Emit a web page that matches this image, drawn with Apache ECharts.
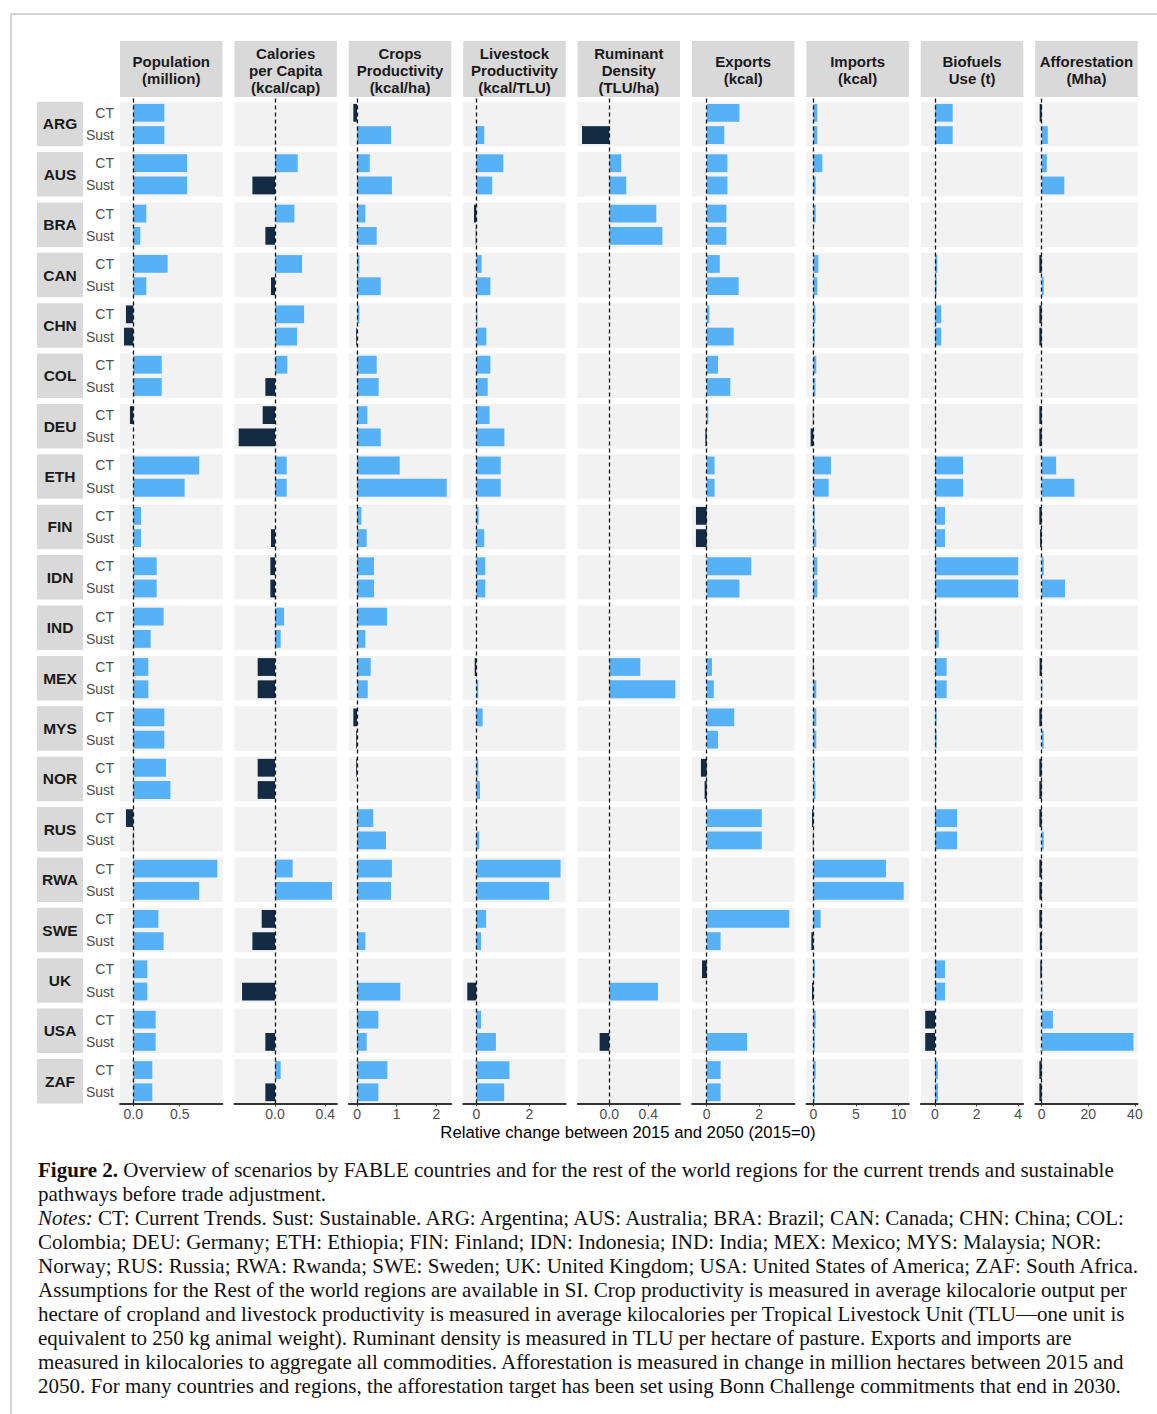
<!DOCTYPE html>
<html>
<head>
<meta charset="utf-8">
<script src="https://cdn.jsdelivr.net/npm/echarts@6/dist/echarts.min.js"></script>
<style>
  html, body { margin: 0; padding: 0; background: #fff; }
  #chart { width: 1157px; height: 1414px; }
</style>
</head>
<body>
<div id="chart"></div>
<script>
// countries (facet rows) and scenarios
const countries = ['ARG', 'AUS', 'BRA', 'CAN', 'CHN', 'COL', 'DEU', 'ETH', 'FIN', 'IDN',
  'IND', 'MEX', 'MYS', 'NOR', 'RUS', 'RWA', 'SWE', 'UK', 'USA', 'ZAF']
const scenarios = ['CT', 'Sust']

// relative change 2015-2050
const popCT = [0.334, 0.58, 0.14, 0.37, -0.079, 0.306, -0.036, 0.71, 0.083, 0.252, 0.327, 0.162, 0.334, 0.352, -0.079, 0.905, 0.27, 0.151, 0.241, 0.205]
const popSust = [0.334, 0.58, 0.075, 0.14, -0.1, 0.306, 0, 0.553, 0.083, 0.252, 0.187, 0.162, 0.334, 0.4, -0.004, 0.71, 0.327, 0.151, 0.241, 0.205]

const calCT = [0, 0.18, 0.154, 0.215, 0.231, 0.098, -0.098, 0.093, 0, -0.037, 0.072, -0.138, 0, -0.138, 0, 0.14, -0.106, 0, 0, 0.045]
const calSust = [0, -0.18, -0.077, -0.032, 0.175, -0.077, -0.289, 0.093, -0.032, -0.037, 0.045, -0.138, 0, -0.138, 0, 0.453, -0.18, -0.262, -0.077, -0.077]

const cropCT = [-0.093, 0.32, 0.21, 0.06, 0.06, 0.496, 0.26, 1.075, 0.11, 0.428, 0.756, 0.345, -0.093, -0.02, 0.41, 0.88, 0, 0, 0.537, 0.765]
const cropSust = [0.857, 0.88, 0.496, 0.597, -0.02, 0.546, 0.597, 2.26, 0.244, 0.428, 0.21, 0.27, -0.02, 0, 0.73, 0.857, 0.21, 1.09, 0.244, 0.537]

const liveCT = [0, 1.02, -0.087, 0.2, 0.04, 0.53, 0.5, 0.92, 0.09, 0.34, 0, -0.06, 0.24, 0.075, 0, 3.18, 0.37, 0, 0.18, 1.25]
const liveSust = [0.3, 0.6, -0.02, 0.53, 0.38, 0.43, 1.06, 0.92, 0.3, 0.34, 0, 0.075, 0, 0.14, 0.11, 2.75, 0.18, -0.34, 0.74, 1.05]

const rumCT = [0, 0.123, 0.482, 0, 0, 0, 0, 0, 0, 0, 0, 0.318, 0, 0, 0, 0, 0, 0, 0, 0]
const rumSust = [-0.28, 0.174, 0.544, 0, 0, 0, 0, 0, 0, 0, 0, 0.677, 0, 0, 0, 0, 0, 0.5, -0.099, 0]

const expCT = [1.25, 0.79, 0.75, 0.5, 0.1, 0.43, 0.06, 0.3, -0.41, 1.7, 0, 0.2, 1.05, -0.22, 2.1, 0, 3.15, -0.18, 0, 0.53]
const expSust = [0.67, 0.79, 0.75, 1.22, 1.03, 0.9, -0.05, 0.3, -0.41, 1.25, 0, 0.27, 0.43, -0.08, 2.1, 0, 0.53, 0, 1.54, 0.53]

const impCT = [0.47, 1.06, 0.28, 0.59, 0.25, 0.35, -0.05, 2.07, 0.18, 0.47, 0, -0.05, 0.35, 0.18, -0.15, 8.52, 0.86, 0.18, 0.28, 0.28]
const impSust = [0.47, 0.28, -0.03, 0.47, 0.18, 0.25, -0.31, 1.8, 0.35, 0.47, 0, 0.35, 0.35, 0.25, -0.05, 10.6, -0.23, -0.15, 0.18, 0.18]

const bioCT = [0.85, 0, 0, 0.11, 0.3, 0, 0.02, 1.35, 0.48, 4.0, 0.06, 0.56, 0.08, 0, 1.06, 0, 0, 0.48, -0.47, 0.14]
const bioSust = [0.85, 0, 0, 0.08, 0.3, 0, 0.02, 1.35, 0.48, 4.0, 0.18, 0.56, 0.08, 0, 1.06, 0, 0, 0.48, -0.47, 0.14]

const affCT = [-0.87, 2.2, 0, -1.0, -1.0, 0, -1.0, 6.2, -1.0, 0.87, 0, -0.9, -1.0, -1.0, -1.0, -1.0, -1.0, -0.6, 4.8, -1.0]
const affSust = [2.6, 9.7, 0, 0.87, -1.0, 0, -1.0, 14.0, -0.7, 10.0, 0, 0.3, 0.87, -1.0, 0.87, -1.0, -0.8, 0.3, 39.4, -1.0]

// facet headers and axis ticks
const headers = ['Population\n(million)', 'Calories\nper Capita\n(kcal/cap)', 'Crops\nProductivity\n(kcal/ha)',
  'Livestock\nProductivity\n(kcal/TLU)', 'Ruminant\nDensity\n(TLU/ha)', 'Exports\n(kcal)', 'Imports\n(kcal)',
  'Biofuels\nUse (t)', 'Afforestation\n(Mha)']
const tickValues = [[0, 0.5], [0, 0.4], [0, 1, 2], [0, 2], [0, 0.4], [0, 2], [0, 5, 10], [0, 2, 4], [0, 20, 40]]
const tickLabels = [['0.0', '0.5'], ['0.0', '0.4'], ['0', '1', '2'], ['0', '2'], ['0.0', '0.4'], ['0', '2'], ['0', '5', '10'], ['0', '2', '4'], ['0', '20', '40']]
const axisMin = [-0.143, -0.323, -0.207, -0.494, -0.325, -0.561, -0.809, -0.683, -2.79]
const axisMax = [0.961, 0.492, 2.375, 3.374, 0.726, 3.351, 11.21, 4.245, 41.2]

const xTitle = 'Relative change between 2015 and 2050 (2015=0)'
const captionLines = [
  '{b|Figure 2.} Overview of scenarios by FABLE countries and for the rest of the world regions for the current trends and sustainable',
  'pathways before trade adjustment.',
  '{i|Notes:} CT: Current Trends. Sust: Sustainable. ARG: Argentina; AUS: Australia; BRA: Brazil; CAN: Canada; CHN: China; COL:',
  'Colombia; DEU: Germany; ETH: Ethiopia; FIN: Finland; IDN: Indonesia; IND: India; MEX: Mexico; MYS: Malaysia; NOR:',
  'Norway; RUS: Russia; RWA: Rwanda; SWE: Sweden; UK: United Kingdom; USA: United States of America; ZAF: South Africa.',
  'Assumptions for the Rest of the world regions are available in SI. Crop productivity is measured in average kilocalorie output per',
  'hectare of cropland and livestock productivity is measured in average kilocalories per Tropical Livestock Unit (TLU\u2014one unit is',
  'equivalent to 250 kg animal weight). Ruminant density is measured in TLU per hectare of pasture. Exports and imports are',
  'measured in kilocalories to aggregate all commodities. Afforestation is measured in change in million hectares between 2015 and',
  '2050. For many countries and regions, the afforestation target has been set using Bonn Challenge commitments that end in 2030.'
]

const ctValues = [popCT, calCT, cropCT, liveCT, rumCT, expCT, impCT, bioCT, affCT]
const sustValues = [popSust, calSust, cropSust, liveSust, rumSust, expSust, impSust, bioSust, affSust]

const posColor = '#56B1F7'
const negColor = '#132B43'
const panelBg = '#F2F2F2'
const stripBg = '#D9D9D9'

// layout
const colLeft0 = 120, colStep = 114.4, panelW = 102.5
const rowTop0 = 101.7, rowStep = 50.38, panelH = 44.5
const headTop = 41, headH = 56
const colLeft = c => colLeft0 + c * colStep
const rowTop = r => rowTop0 + r * rowStep
const axisY = rowTop(countries.length - 1) + panelH

const grids = [], xAxes = [], yAxes = [], series = []

headers.forEach((h, c) => {
  countries.forEach((name, r) => {
    const idx = grids.length
    const last = r === countries.length - 1
    grids.push({
      left: colLeft(c), top: rowTop(r), width: panelW, height: panelH,
      show: true, backgroundColor: panelBg, borderWidth: 0
    })
    xAxes.push({
      gridIndex: idx, type: 'value', min: axisMin[c], max: axisMax[c], show: last,
      axisLine: { show: true, onZero: false, lineStyle: { color: '#333', width: 1.8 } },
      axisTick: { show: true, length: 3, customValues: tickValues[c], lineStyle: { color: '#333', width: 1 } },
      axisLabel: {
        customValues: tickValues[c], color: '#4d4d4d', fontSize: 14, margin: 4,
        formatter: v => tickLabels[c][tickValues[c].indexOf(v)]
      },
      splitLine: { show: false }
    })
    yAxes.push({
      gridIndex: idx, type: 'category', data: scenarios, inverse: true, show: c === 0,
      axisLine: { show: false }, axisTick: { show: false },
      axisLabel: { color: '#4d4d4d', fontSize: 14, margin: 6 },
      splitLine: { show: false }
    })
    series.push({
      type: 'bar', xAxisIndex: idx, yAxisIndex: idx, barCategoryGap: '20%', silent: true,
      data: [ctValues[c][r], sustValues[c][r]].map(v => ({
        value: v, itemStyle: { color: v < 0 ? negColor : posColor }
      }))
    })
  })
})

// dashed zero line, one per column, across all rows
headers.forEach((h, c) => {
  const idx = grids.length
  grids.push({ left: colLeft(c), top: headTop + headH, width: panelW, height: axisY - headTop - headH, show: false })
  xAxes.push({ gridIndex: idx, type: 'value', min: axisMin[c], max: axisMax[c], show: false })
  yAxes.push({ gridIndex: idx, type: 'value', min: 0, max: 1, show: false })
  series.push({
    type: 'line', xAxisIndex: idx, yAxisIndex: idx, data: [], z: 5, silent: true,
    markLine: {
      silent: true, symbol: ['none', 'none'], label: { show: false },
      lineStyle: { color: '#111', type: [4, 3], width: 1.3 },
      data: [{ xAxis: 0 }]
    }
  })
})

const graphics = []

// figure frame (top and left edges visible)
graphics.push({ type: 'line', shape: { x1: 11, y1: 14, x2: 1157, y2: 14 }, style: { stroke: '#c4c4c4', lineWidth: 1.5 } })
graphics.push({ type: 'line', shape: { x1: 11, y1: 14, x2: 11, y2: 1414 }, style: { stroke: '#c4c4c4', lineWidth: 1.5 } })

// column strips
headers.forEach((h, c) => {
  graphics.push({ type: 'rect', shape: { x: colLeft(c), y: headTop, width: panelW, height: headH }, style: { fill: stripBg } })
  graphics.push({
    type: 'text', x: colLeft(c) + panelW / 2, y: headTop + headH / 2 + 1,
    style: {
      text: h, align: 'center', verticalAlign: 'middle', fill: '#1a1a1a',
      fontFamily: 'Liberation Sans, Arial, sans-serif', fontSize: 15, fontWeight: 'bold', lineHeight: 17
    }
  })
})

// row strips
countries.forEach((name, r) => {
  graphics.push({ type: 'rect', shape: { x: 37, y: rowTop(r), width: 46, height: panelH }, style: { fill: stripBg } })
  graphics.push({
    type: 'text', x: 60, y: rowTop(r) + panelH / 2,
    style: {
      text: name, align: 'center', verticalAlign: 'middle', fill: '#1a1a1a',
      fontFamily: 'Liberation Sans, Arial, sans-serif', fontSize: 15.5, fontWeight: 'bold'
    }
  })
})

// shared x axis title
graphics.push({
  type: 'text', x: 628, y: 1132,
  style: {
    text: xTitle, align: 'center', verticalAlign: 'middle', fill: '#000',
    fontFamily: 'Liberation Sans, Arial, sans-serif', fontSize: 16.7
  }
})

// caption
const capFont = 'Liberation Serif, Times New Roman, serif'
captionLines.forEach((line, i) => {
  graphics.push({
    type: 'text', x: 38, y: 1170 + i * 24,
    style: {
      text: line, align: 'left', verticalAlign: 'middle', fill: '#111',
      fontFamily: capFont, fontSize: 21,
      rich: {
        b: { fontFamily: capFont, fontSize: 21, fontWeight: 'bold', fill: '#111' },
        i: { fontFamily: capFont, fontSize: 21, fontStyle: 'italic', fill: '#111' }
      }
    }
  })
})

const chart = echarts.init(document.getElementById('chart'), null, { renderer: 'svg' })
chart.setOption({
  animation: false,
  backgroundColor: '#fff',
  textStyle: { fontFamily: 'Liberation Sans, Arial, sans-serif' },
  grid: grids,
  xAxis: xAxes,
  yAxis: yAxes,
  series: series,
  graphic: { elements: graphics }
})
</script>
</body>
</html>
